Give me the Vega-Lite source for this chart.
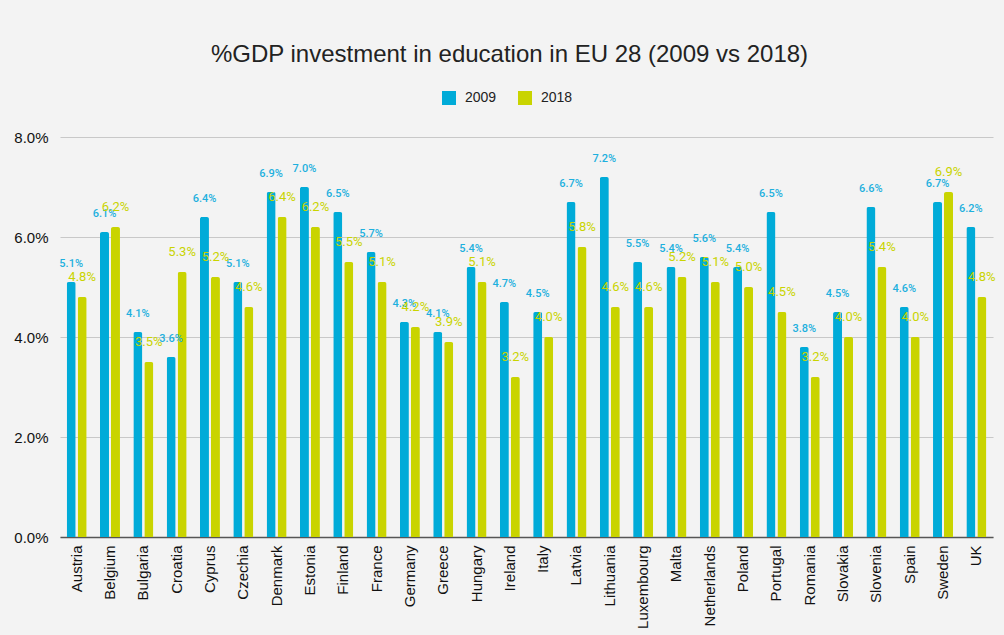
{
  "$schema": "https://vega.github.io/schema/vega-lite/v6.json",
  "width": 933,
  "height": 400,
  "autosize": {"type": "none"},
  "padding": {"left": 60, "top": 137, "right": 11, "bottom": 98},
  "background": "#f3f3f3",
  "title": {
    "text": "%GDP investment in education in EU 28 (2009 vs 2018)",
    "font": "Liberation Sans",
    "fontSize": 24,
    "fontWeight": "normal",
    "color": "#222222",
    "anchor": "middle",
    "dx": -17,
    "offset": 24
  },
  "config": {
    "view": {"stroke": null},
    "axis": {"labelFont": "Liberation Sans", "titleFont": "Liberation Sans"}
  },
  "data": {
    "values": [
      {"country": "Austria", "year": "2009", "value": 0.051},
      {"country": "Austria", "year": "2018", "value": 0.048},
      {"country": "Belgium", "year": "2009", "value": 0.061},
      {"country": "Belgium", "year": "2018", "value": 0.062},
      {"country": "Bulgaria", "year": "2009", "value": 0.041},
      {"country": "Bulgaria", "year": "2018", "value": 0.035},
      {"country": "Croatia", "year": "2009", "value": 0.036},
      {"country": "Croatia", "year": "2018", "value": 0.053},
      {"country": "Cyprus", "year": "2009", "value": 0.064},
      {"country": "Cyprus", "year": "2018", "value": 0.052},
      {"country": "Czechia", "year": "2009", "value": 0.051},
      {"country": "Czechia", "year": "2018", "value": 0.046},
      {"country": "Denmark", "year": "2009", "value": 0.069},
      {"country": "Denmark", "year": "2018", "value": 0.064},
      {"country": "Estonia", "year": "2009", "value": 0.070},
      {"country": "Estonia", "year": "2018", "value": 0.062},
      {"country": "Finland", "year": "2009", "value": 0.065},
      {"country": "Finland", "year": "2018", "value": 0.055},
      {"country": "France", "year": "2009", "value": 0.057},
      {"country": "France", "year": "2018", "value": 0.051},
      {"country": "Germany", "year": "2009", "value": 0.043},
      {"country": "Germany", "year": "2018", "value": 0.042},
      {"country": "Greece", "year": "2009", "value": 0.041},
      {"country": "Greece", "year": "2018", "value": 0.039},
      {"country": "Hungary", "year": "2009", "value": 0.054},
      {"country": "Hungary", "year": "2018", "value": 0.051},
      {"country": "Ireland", "year": "2009", "value": 0.047},
      {"country": "Ireland", "year": "2018", "value": 0.032},
      {"country": "Italy", "year": "2009", "value": 0.045},
      {"country": "Italy", "year": "2018", "value": 0.040},
      {"country": "Latvia", "year": "2009", "value": 0.067},
      {"country": "Latvia", "year": "2018", "value": 0.058},
      {"country": "Lithuania", "year": "2009", "value": 0.072},
      {"country": "Lithuania", "year": "2018", "value": 0.046},
      {"country": "Luxembourg", "year": "2009", "value": 0.055},
      {"country": "Luxembourg", "year": "2018", "value": 0.046},
      {"country": "Malta", "year": "2009", "value": 0.054},
      {"country": "Malta", "year": "2018", "value": 0.052},
      {"country": "Netherlands", "year": "2009", "value": 0.056},
      {"country": "Netherlands", "year": "2018", "value": 0.051},
      {"country": "Poland", "year": "2009", "value": 0.054},
      {"country": "Poland", "year": "2018", "value": 0.050},
      {"country": "Portugal", "year": "2009", "value": 0.065},
      {"country": "Portugal", "year": "2018", "value": 0.045},
      {"country": "Romania", "year": "2009", "value": 0.038},
      {"country": "Romania", "year": "2018", "value": 0.032},
      {"country": "Slovakia", "year": "2009", "value": 0.045},
      {"country": "Slovakia", "year": "2018", "value": 0.040},
      {"country": "Slovenia", "year": "2009", "value": 0.066},
      {"country": "Slovenia", "year": "2018", "value": 0.054},
      {"country": "Spain", "year": "2009", "value": 0.046},
      {"country": "Spain", "year": "2018", "value": 0.040},
      {"country": "Sweden", "year": "2009", "value": 0.067},
      {"country": "Sweden", "year": "2018", "value": 0.069},
      {"country": "UK", "year": "2009", "value": 0.062},
      {"country": "UK", "year": "2018", "value": 0.048}
    ]
  },
  "encoding": {
    "x": {
      "field": "country",
      "type": "nominal",
      "sort": null,
      "scale": {"paddingInner": 0.4, "paddingOuter": 0.2},
      "axis": {
        "title": null,
        "labelAngle": -90,
        "labelFontSize": 15,
        "labelColor": "#111111",
        "labelPadding": 8,
        "ticks": false,
        "domainColor": "#555555",
        "domainWidth": 1.5
      }
    },
    "xOffset": {"field": "year", "type": "nominal", "scale": {"paddingInner": 0.18}},
    "y": {
      "field": "value",
      "type": "quantitative",
      "scale": {"domain": [0, 0.08]},
      "axis": {
        "title": null,
        "format": ".1%",
        "values": [0, 0.02, 0.04, 0.06, 0.08],
        "labelFontSize": 15,
        "labelColor": "#111111",
        "labelPadding": 12,
        "domain": false,
        "ticks": false,
        "gridColor": "#c8c8c8",
        "gridWidth": 1.2
      }
    }
  },
  "layer": [
    {
      "mark": {"type": "bar", "cornerRadiusTopLeft": 2, "cornerRadiusTopRight": 2},
      "encoding": {
        "color": {
          "field": "year",
          "type": "nominal",
          "scale": {"domain": ["2009", "2018"], "range": ["#00abd8", "#c9d400"]},
          "legend": {
            "title": null,
            "orient": "none",
            "direction": "horizontal",
            "legendX": 382,
            "legendY": -46,
            "symbolType": "square",
            "symbolSize": 196,
            "symbolStrokeWidth": 0,
            "labelFont": "Liberation Sans",
            "labelFontSize": 14,
            "labelColor": "#222222",
            "columnPadding": 21,
            "labelOffset": 9
          }
        }
      }
    },
    {
      "transform": [{"filter": "datum.year == '2009'"}],
      "mark": {"type": "text", "font": "Roboto", "fontSize": 11, "fontWeight": 500, "color": "#1eb0de", "baseline": "alphabetic", "dy": -15},
      "encoding": {"text": {"field": "value", "type": "quantitative", "format": ".1%"}}
    },
    {
      "transform": [{"filter": "datum.year == '2018'"}],
      "mark": {"type": "text", "font": "Roboto", "fontSize": 13, "color": "#c9d400", "baseline": "alphabetic", "dy": -16},
      "encoding": {"text": {"field": "value", "type": "quantitative", "format": ".1%"}}
    }
  ]
}
